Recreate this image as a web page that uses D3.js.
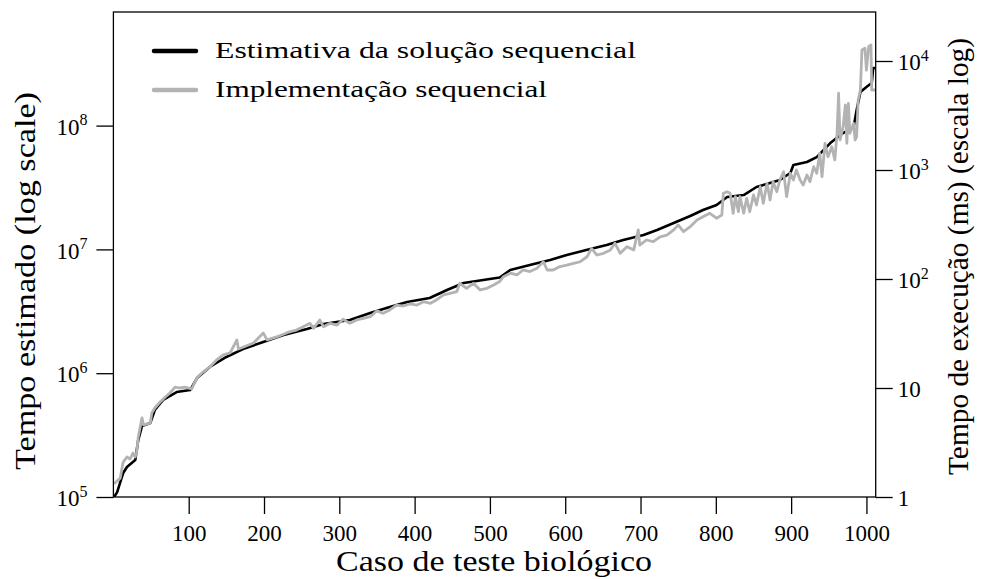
<!DOCTYPE html>
<html>
<head>
<meta charset="utf-8">
<script src="https://cdn.jsdelivr.net/npm/d3@7"></script>
<style>
  html, body { margin: 0; padding: 0; background: #fff; }
  svg { display: block; }
  text { font-family: "Liberation Serif", "Times New Roman", serif; fill: #000; }
</style>
</head>
<body>
<svg id="chart" width="981" height="579"></svg>
<script>
// Sequential estimate (left axis, estimated time units) per biological test case
const caseEst = [1,5,10,13,18,29,33,38,49,55,66,84,102,111,128,150,172,199,226,257,279,314,341,367,390,420,443,465,491,513,527,553,580,602,628,655,677,704,722,744,766,783,801,815,837,854,872,885,899,903,921,934,952,969,983,987,992,1000,1007,1009,1012];
const estimate = [1.000e5,1.096e5,1.371e5,1.563e5,1.746e5,1.991e5,2.884e5,3.750e5,3.963e5,5.047e5,6.081e5,7.047e5,7.311e5,9.141e5,1.122e6,1.352e6,1.567e6,1.786e6,2.037e6,2.275e6,2.495e6,2.692e6,3.062e6,3.428e6,3.758e6,4.046e6,4.699e6,5.358e6,5.662e6,5.929e6,6.823e6,7.482e6,8.204e6,9.016e6,9.886e6,1.086e7,1.191e7,1.306e7,1.435e7,1.633e7,1.862e7,2.080e7,2.286e7,2.649e7,2.748e7,3.192e7,3.436e7,3.639e7,4.140e7,4.808e7,5.082e7,5.572e7,7.228e7,8.710e7,9.750e7,1.337e8,1.866e8,2.051e8,2.208e8,2.917e8,2.917e8];

// Measured sequential implementation (right axis, ms)
const caseImpl = [1,9,13,18,22,26,29,31,33,38,40,49,51,55,62,69,75,82,88,95,104,111,119,128,137,146,155,164,166,173,186,199,204,217,230,
  235,243,252,261,266,274,279,288,297,305,314,323,332,341,350,358,367,376,385,394,403,412,421,429,438,447,456,460,469,478,487,496,505,513,
  518,527,536,544,553,562,571,576,584,593,602,611,620,629,635,642,651,660,666,673,682,691,697,699,708,717,726,735,744,750,757,766,775,
  783,792,801,808,810,815,819,823,826,830,832,837,841,845,850,854,859,863,868,872,876,881,885,890,894,899,903,907,912,916,921,925,930,934,
  938,941,945,949,954,958,961,963,965,969,972,974,976,978,983,985,987,989,992,994,998,1000,1003,1006,1007,1012];
const msImpl = [1.32,1.49,2.09,2.33,2.23,2.53,2.33,2.59,3.55,5.31,4.58,4.77,5.90,6.56,7.44,8.27,9.00,10.2,10.0,10.2,9.79,12.4,14.0,15.6,18.1,20.1,21.0,27.6,22.8,23.8,25.9,32.0,27.6,29.4,32.0,
  32.9,34.0,36.5,39.2,35.3,42.1,36.5,39.2,37.8,42.7,39.2,42.1,43.6,45.1,51.2,48.4,52.0,57.7,56.5,59.0,57.7,61.9,59.8,64.2,71.3,73.9,76.5,91.3,82.2,91.3,79.3,82.2,88.0,95.0,
  105,113,109,121,117,125,144,121,121,130,134,139,144,160,191,166,172,185,213,172,198,185,282,205,228,220,244,253,282,313,272,302,348,
  373,401,361,386,611,632,611,401,569,414,569,401,550,414,590,478,703,495,755,531,781,632,809,964,569,933,809,1000,809,728,900,781,1072,933,
  1422,869,1758,1324,1636,1236,2173,5058,1884,2495,3945,1758,4093,2173,2680,1884,2023,4386,5420,12620,13070,8260,13520,14030,5420,5420];

// Axis ticks
const xTicks = [100,200,300,400,500,600,700,800,900,1000];
const leftTicks = [1e5,1e6,1e7,1e8];
const leftTickExp = ["5","6","7","8"];
const rightTicks = [1,10,100,1000,10000];
const rightTickBase = ["1","10","10","10","10"];
const rightTickExp = ["","","2","3","4"];

const seriesNames = ["Estimativa da solução sequencial", "Implementação sequencial"];
const seriesColors = ["#000000", "#b3b3b3"];
const xTitle = "Caso de teste biológico";
const leftTitle = "Tempo estimado (log scale)";
const rightTitle = "Tempo de execução (ms) (escala log)";

const svg = d3.select("#chart");
const plot = {left: 113.4, right: 875.7, top: 12, bottom: 497};

const x = d3.scaleLinear().domain([0, 1012.3]).range([plot.left, plot.right]);
const yL = d3.scaleLog().domain([1e5, Math.pow(10, 5 + (plot.bottom - plot.top) / 123.8)]).range([plot.bottom, plot.top]);
const yR = d3.scaleLog().domain([1, Math.pow(10, (plot.bottom - plot.top) / 109)]).range([plot.bottom, plot.top]);

const tickLen = 17;
const tickFont = 23;

// Stretch a text element to a given rendered length
function fit(sel, len) {
  sel.attr("textLength", len).attr("lengthAdjust", "spacingAndGlyphs");
  return sel;
}

// Bottom axis
const gx = svg.append("g").attr("transform", `translate(0,${plot.bottom})`)
  .call(d3.axisBottom(x).tickValues(xTicks).tickSize(tickLen).tickSizeOuter(0).tickPadding(6).tickFormat(d3.format("d")));
gx.select(".domain").remove();
gx.selectAll(".tick line").attr("stroke", "#000").attr("stroke-width", 1.3);
gx.selectAll(".tick text").attr("font-size", tickFont).attr("font-family", "Liberation Serif").attr("dy", "0.9em");

// Left axis
const gl = svg.append("g").attr("transform", `translate(${plot.left},0)`)
  .call(d3.axisLeft(yL).tickValues(leftTicks).tickSize(tickLen).tickSizeOuter(0).tickPadding(9).tickFormat(() => ""));
gl.select(".domain").remove();
gl.selectAll(".tick line").attr("stroke", "#000").attr("stroke-width", 1.3);
gl.selectAll(".tick text").each(function(d, i) {
  const t = d3.select(this).attr("font-size", tickFont).attr("font-family", "Liberation Serif").attr("dy", "0.38em");
  t.append("tspan").text("10");
  t.append("tspan").attr("font-size", 16).attr("dy", "-0.6em").text(leftTickExp[i]);
});

// Right axis
const gr = svg.append("g").attr("transform", `translate(${plot.right},0)`)
  .call(d3.axisRight(yR).tickValues(rightTicks).tickSize(tickLen).tickSizeOuter(0).tickPadding(5).tickFormat(() => ""));
gr.select(".domain").remove();
gr.selectAll(".tick line").attr("stroke", "#000").attr("stroke-width", 1.3);
gr.selectAll(".tick text").each(function(d, i) {
  const t = d3.select(this).attr("font-size", tickFont).attr("font-family", "Liberation Serif").attr("dy", "0.38em");
  t.append("tspan").text(rightTickBase[i]);
  if (rightTickExp[i]) t.append("tspan").attr("font-size", 16).attr("dy", "-0.6em").text(rightTickExp[i]);
});

// Lines
const lineEst = d3.line().x((d, i) => x(caseEst[i])).y(d => yL(d));
const lineImpl = d3.line().x((d, i) => x(caseImpl[i])).y(d => yR(d));

svg.append("clipPath").attr("id", "plotclip").append("rect")
  .attr("x", plot.left).attr("y", plot.top).attr("width", plot.right - plot.left).attr("height", plot.bottom - plot.top);

svg.append("path").datum(estimate).attr("d", lineEst)
  .attr("fill", "none").attr("stroke", seriesColors[0]).attr("stroke-width", 2.6).attr("stroke-linejoin", "round")
  .attr("clip-path", "url(#plotclip)");
svg.append("path").datum(msImpl).attr("d", lineImpl)
  .attr("fill", "none").attr("stroke", seriesColors[1]).attr("stroke-width", 2.8).attr("stroke-linejoin", "round")
  .attr("clip-path", "url(#plotclip)");

// Frame
svg.append("rect").attr("x", plot.left).attr("y", plot.top)
  .attr("width", plot.right - plot.left).attr("height", plot.bottom - plot.top)
  .attr("fill", "none").attr("stroke", "#000").attr("stroke-width", 1.3);

// Legend
const legend = svg.append("g");
const legendLengths = [421, 332];
seriesNames.forEach((name, i) => {
  const ly = 51 + i * 39;
  legend.append("line").attr("x1", 154).attr("x2", 196).attr("y1", ly).attr("y2", ly)
    .attr("stroke", seriesColors[i]).attr("stroke-width", 4.5).attr("stroke-linecap", "round");
  fit(legend.append("text").attr("x", 215).attr("y", ly + 7).attr("font-size", 24).text(name), legendLengths[i]);
});

// Axis titles
fit(svg.append("text").attr("x", 336).attr("y", 571).attr("font-size", 29).text(xTitle), 316);
fit(svg.append("text").attr("transform", "translate(35,470) rotate(-90)").attr("font-size", 29).text(leftTitle), 378);
fit(svg.append("text").attr("transform", "translate(968,475) rotate(-90)").attr("font-size", 29).text(rightTitle), 437);
</script>
</body>
</html>
